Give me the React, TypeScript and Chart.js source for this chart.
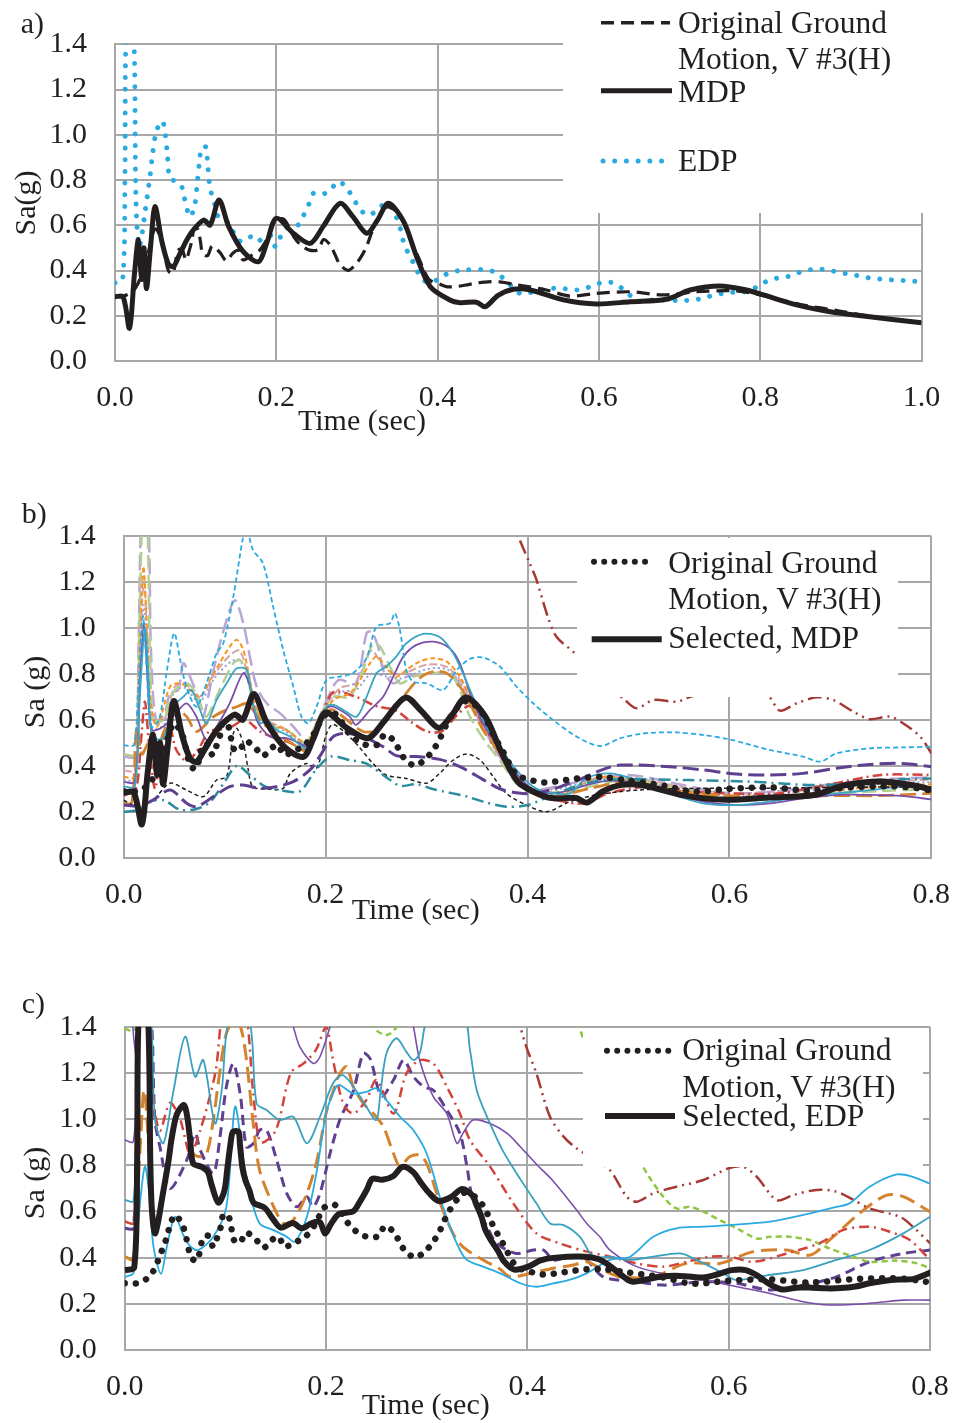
import React, { useEffect, useRef } from "react";
import { Chart, registerables } from "chart.js";

Chart.register(...registerables);

type P = [number, number];

const FONT = "'Liberation Serif', 'Times New Roman', Times, serif";
const INK = "#231f20";
const GRID = "#a7a7a7";
const CLEAR = "rgba(0,0,0,0)";

const yTickValues = [0, 0.2, 0.4, 0.6, 0.8, 1.0, 1.2, 1.4];
const xTicksA = [0, 0.2, 0.4, 0.6, 0.8, 1.0];
const xTicksBC = [0, 0.2, 0.4, 0.6, 0.8];

// Original ground motion, V #3(H)
const original: P[] = [[0,0.289],[0.012,0.289],[0.0225,0.31],[0.029,0.346],[0.034,0.397],[0.038,0.443],[0.042,0.49],[0.045,0.54],[0.05,0.584],[0.057,0.545],[0.0606,0.498],[0.063,0.444],[0.0666,0.397],[0.072,0.387],[0.078,0.488],[0.083,0.494],[0.088,0.447],[0.092,0.488],[0.0957,0.537],[0.098,0.587],[0.103,0.58],[0.106,0.527],[0.1086,0.476],[0.1146,0.465],[0.1205,0.508],[0.13,0.48],[0.138,0.443],[0.146,0.476],[0.153,0.49],[0.1586,0.447],[0.1685,0.465],[0.179,0.488],[0.19,0.55],[0.198,0.616],[0.209,0.628],[0.222,0.548],[0.2305,0.512],[0.241,0.49],[0.252,0.493],[0.2586,0.537],[0.267,0.512],[0.273,0.469],[0.279,0.426],[0.289,0.401],[0.299,0.43],[0.3066,0.469],[0.3126,0.512],[0.317,0.556],[0.3225,0.603],[0.329,0.645],[0.337,0.681],[0.348,0.664],[0.3556,0.628],[0.361,0.584],[0.366,0.538],[0.372,0.49],[0.378,0.444],[0.383,0.401],[0.39,0.358],[0.403,0.339],[0.412,0.328],[0.423,0.329],[0.435,0.336],[0.446,0.343],[0.458,0.349],[0.477,0.35],[0.498,0.337],[0.535,0.314],[0.564,0.287],[0.597,0.299],[0.639,0.306],[0.68,0.292],[0.721,0.306],[0.762,0.311],[0.787,0.302],[0.82,0.275],[0.85,0.25],[0.9,0.22],[0.95,0.19],[1.0,0.17]];

// MDP (selected)
const mdp: P[] = [[0,0.284],[0.010,0.284],[0.018,0.145],[0.024,0.38],[0.029,0.535],[0.033,0.36],[0.036,0.5],[0.039,0.32],[0.044,0.5],[0.0496,0.682],[0.058,0.53],[0.066,0.43],[0.0723,0.417],[0.08,0.47],[0.089,0.535],[0.097,0.579],[0.110,0.623],[0.118,0.601],[0.129,0.712],[0.141,0.594],[0.159,0.483],[0.178,0.439],[0.188,0.52],[0.200,0.631],[0.221,0.565],[0.242,0.520],[0.258,0.594],[0.279,0.697],[0.295,0.638],[0.312,0.565],[0.325,0.62],[0.339,0.697],[0.358,0.616],[0.374,0.461],[0.391,0.328],[0.415,0.270],[0.428,0.258],[0.448,0.26],[0.459,0.240],[0.475,0.29],[0.494,0.317],[0.515,0.314],[0.556,0.270],[0.597,0.252],[0.639,0.262],[0.684,0.273],[0.713,0.314],[0.750,0.332],[0.783,0.314],[0.804,0.292],[0.845,0.248],[0.887,0.218],[0.928,0.199],[1.0,0.169]];

// EDP (selected)
const edp: P[] = [[0,0.346],[0.0095,0.358],[0.0124,0.83],[0.0145,1.5],[0.0225,1.5],[0.0255,0.8],[0.027,0.609],[0.030,0.505],[0.033,0.55],[0.037,0.653],[0.0434,0.815],[0.0467,0.918],[0.0517,1.02],[0.0587,1.061],[0.062,1.014],[0.065,0.91],[0.068,0.808],[0.0765,0.793],[0.0827,0.771],[0.086,0.72],[0.093,0.638],[0.099,0.69],[0.102,0.788],[0.105,0.889],[0.1075,0.945],[0.113,0.945],[0.1145,0.89],[0.117,0.788],[0.12,0.734],[0.124,0.69],[0.128,0.638],[0.139,0.616],[0.147,0.569],[0.155,0.53],[0.167,0.55],[0.176,0.527],[0.186,0.55],[0.194,0.553],[0.199,0.505],[0.2055,0.55],[0.213,0.589],[0.227,0.601],[0.234,0.645],[0.2405,0.694],[0.246,0.741],[0.256,0.737],[0.2666,0.752],[0.276,0.793],[0.2865,0.771],[0.294,0.726],[0.302,0.682],[0.312,0.645],[0.3245,0.663],[0.335,0.697],[0.345,0.671],[0.350,0.624],[0.3546,0.575],[0.358,0.523],[0.3637,0.476],[0.3707,0.43],[0.377,0.383],[0.387,0.348],[0.401,0.361],[0.413,0.388],[0.428,0.40],[0.457,0.404],[0.471,0.393],[0.482,0.364],[0.493,0.326],[0.504,0.296],[0.518,0.305],[0.532,0.317],[0.547,0.322],[0.561,0.318],[0.575,0.314],[0.59,0.329],[0.603,0.346],[0.617,0.346],[0.63,0.318],[0.641,0.284],[0.653,0.262],[0.667,0.27],[0.682,0.27],[0.697,0.267],[0.711,0.268],[0.726,0.275],[0.74,0.289],[0.754,0.299],[0.769,0.305],[0.783,0.307],[0.797,0.329],[0.809,0.354],[0.823,0.368],[0.838,0.376],[0.851,0.395],[0.866,0.405],[0.879,0.405],[0.894,0.395],[0.908,0.385],[0.923,0.376],[0.937,0.366],[0.952,0.361],[0.966,0.358],[0.982,0.355],[1.0,0.35]];

// Panel b: other candidate motions
const bLightBlueDash: P[] = [[0,0.49],[0.01,0.49],[0.014,0.7],[0.019,1.05],[0.023,0.8],[0.027,0.57],[0.035,0.6],[0.043,0.82],[0.05,0.977],[0.056,0.86],[0.062,0.745],[0.072,0.657],[0.082,0.759],[0.092,0.89],[0.0987,0.933],[0.1086,1.136],[0.1185,1.40],[0.122,1.43],[0.128,1.34],[0.138,1.28],[0.148,1.093],[0.158,0.904],[0.168,0.745],[0.176,0.614],[0.183,0.585],[0.191,0.657],[0.201,0.774],[0.214,0.788],[0.227,0.803],[0.2406,0.87],[0.2505,1.006],[0.2637,1.02],[0.2686,1.064],[0.2736,0.991],[0.28,0.817],[0.2868,0.766],[0.30,0.759],[0.3165,0.73],[0.33,0.817],[0.343,0.865],[0.356,0.871],[0.3726,0.832],[0.389,0.745],[0.4056,0.672],[0.4254,0.599],[0.4486,0.527],[0.4717,0.486],[0.4915,0.519],[0.5146,0.541],[0.5477,0.545],[0.574,0.534],[0.6,0.515],[0.64,0.469],[0.673,0.44],[0.69,0.418],[0.706,0.454],[0.739,0.476],[0.772,0.48],[0.8,0.483]];
const bDarkRedDDD: P[] = [[0.37,1.65],[0.3924,1.383],[0.4023,1.28],[0.409,1.208],[0.42,1.05],[0.4287,0.962],[0.447,0.889],[0.47,0.78],[0.4948,0.693],[0.508,0.65],[0.5245,0.686],[0.5477,0.679],[0.564,0.704],[0.6,0.71],[0.637,0.708],[0.65,0.64],[0.6666,0.672],[0.6864,0.698],[0.703,0.686],[0.723,0.635],[0.739,0.603],[0.759,0.614],[0.772,0.585],[0.789,0.527],[0.8,0.454]];
const bPurpleLong: P[] = [[0,0.229],[0.016,0.225],[0.029,0.251],[0.046,0.295],[0.0624,0.237],[0.072,0.222],[0.089,0.266],[0.105,0.309],[0.118,0.316],[0.135,0.302],[0.151,0.309],[0.168,0.331],[0.1845,0.382],[0.194,0.44],[0.2076,0.527],[0.2208,0.541],[0.2406,0.52],[0.257,0.483],[0.27,0.444],[0.29,0.44],[0.313,0.428],[0.333,0.396],[0.356,0.34],[0.3726,0.30],[0.389,0.283],[0.409,0.28],[0.442,0.324],[0.475,0.384],[0.4915,0.403],[0.541,0.396],[0.574,0.382],[0.607,0.364],[0.64,0.36],[0.673,0.367],[0.706,0.389],[0.739,0.406],[0.772,0.41],[0.8,0.396]];
const bTealDashDot: P[] = [[0,0.2],[0.013,0.207],[0.026,0.244],[0.04,0.25],[0.055,0.21],[0.07,0.21],[0.085,0.24],[0.1,0.33],[0.112,0.40],[0.125,0.36],[0.14,0.31],[0.16,0.29],[0.175,0.29],[0.19,0.38],[0.205,0.44],[0.224,0.425],[0.24,0.41],[0.264,0.338],[0.274,0.312],[0.29,0.32],[0.307,0.298],[0.34,0.266],[0.356,0.244],[0.379,0.222],[0.40,0.229],[0.425,0.273],[0.458,0.324],[0.49,0.341],[0.56,0.338],[0.62,0.331],[0.69,0.316],[0.756,0.338],[0.8,0.345]];
const bBlackShortDash: P[] = [[0,0.25],[0.015,0.22],[0.029,0.25],[0.046,0.324],[0.062,0.295],[0.079,0.266],[0.092,0.338],[0.102,0.353],[0.1086,0.541],[0.112,0.563],[0.1185,0.498],[0.1234,0.382],[0.128,0.309],[0.145,0.298],[0.158,0.302],[0.165,0.367],[0.181,0.41],[0.191,0.389],[0.201,0.541],[0.2076,0.58],[0.227,0.512],[0.247,0.41],[0.26,0.36],[0.28,0.345],[0.3,0.324],[0.313,0.367],[0.3264,0.425],[0.3396,0.451],[0.353,0.425],[0.366,0.353],[0.379,0.28],[0.399,0.229],[0.419,0.2],[0.442,0.244],[0.468,0.273],[0.508,0.294],[0.574,0.302],[0.64,0.302],[0.706,0.306],[0.8,0.309]];
const bTealSolid: P[] = [[0,0.31],[0.011,0.31],[0.016,0.7],[0.021,1.0],[0.025,0.75],[0.028,0.527],[0.039,0.52],[0.049,0.657],[0.059,0.70],[0.067,0.73],[0.0756,0.643],[0.082,0.585],[0.092,0.686],[0.102,0.759],[0.112,0.824],[0.122,0.817],[0.128,0.672],[0.135,0.585],[0.1416,0.6],[0.1515,0.556],[0.1647,0.527],[0.1746,0.49],[0.181,0.476],[0.191,0.556],[0.201,0.657],[0.2076,0.665],[0.2175,0.643],[0.2307,0.614],[0.2406,0.70],[0.2505,0.803],[0.26,0.832],[0.27,0.875],[0.28,0.933],[0.2967,0.974],[0.313,0.96],[0.3264,0.89],[0.336,0.803],[0.346,0.70],[0.3594,0.57],[0.3726,0.483],[0.389,0.382],[0.4056,0.309],[0.4254,0.28],[0.442,0.28],[0.458,0.345],[0.4816,0.367],[0.508,0.338],[0.541,0.28],[0.574,0.236],[0.607,0.229],[0.64,0.244],[0.673,0.265],[0.706,0.28],[0.739,0.294],[0.772,0.309],[0.8,0.306]];
const bPurpleSolid: P[] = [[0,0.33],[0.011,0.33],[0.016,0.75],[0.02,1.02],[0.024,0.75],[0.028,0.556],[0.039,0.57],[0.049,0.614],[0.062,0.672],[0.072,0.614],[0.082,0.512],[0.092,0.57],[0.105,0.672],[0.1185,0.803],[0.125,0.745],[0.1317,0.6],[0.145,0.527],[0.161,0.52],[0.1746,0.498],[0.181,0.483],[0.191,0.556],[0.201,0.65],[0.2076,0.657],[0.224,0.614],[0.23,0.578],[0.244,0.643],[0.257,0.70],[0.267,0.788],[0.277,0.875],[0.29,0.926],[0.3066,0.94],[0.323,0.911],[0.333,0.846],[0.343,0.716],[0.356,0.585],[0.3726,0.469],[0.389,0.367],[0.4056,0.295],[0.425,0.28],[0.442,0.294],[0.458,0.316],[0.4816,0.335],[0.508,0.324],[0.541,0.28],[0.574,0.244],[0.607,0.229],[0.64,0.236],[0.673,0.258],[0.706,0.273],[0.739,0.273],[0.772,0.268],[0.8,0.254]];
const bOrangeShort: P[] = [[0,0.352],[0.011,0.352],[0.015,0.8],[0.0195,1.267],[0.023,1.0],[0.026,0.70],[0.033,0.57],[0.046,0.745],[0.056,0.759],[0.0657,0.73],[0.0756,0.70],[0.0855,0.774],[0.095,0.846],[0.105,0.918],[0.112,0.948],[0.1185,0.904],[0.125,0.774],[0.1317,0.643],[0.145,0.585],[0.161,0.556],[0.1746,0.512],[0.181,0.498],[0.194,0.6],[0.2076,0.686],[0.224,0.716],[0.234,0.774],[0.244,0.846],[0.2505,0.875],[0.26,0.832],[0.27,0.788],[0.28,0.817],[0.293,0.853],[0.3066,0.868],[0.32,0.853],[0.333,0.788],[0.346,0.672],[0.3594,0.556],[0.3726,0.454],[0.389,0.353],[0.4056,0.295],[0.43,0.27],[0.47,0.35],[0.5,0.34],[0.55,0.29],[0.6,0.26],[0.65,0.27],[0.7,0.29],[0.75,0.31],[0.8,0.32]];
const bOrangeLong: P[] = [[0,0.235],[0.008,0.24],[0.013,0.57],[0.018,0.45],[0.025,0.5],[0.032,0.45],[0.039,0.54],[0.046,0.607],[0.0525,0.643],[0.0624,0.614],[0.072,0.549],[0.089,0.614],[0.102,0.643],[0.112,0.657],[0.122,0.672],[0.128,0.643],[0.138,0.585],[0.1515,0.541],[0.161,0.512],[0.1746,0.476],[0.181,0.462],[0.191,0.541],[0.201,0.636],[0.2076,0.643],[0.221,0.6],[0.237,0.549],[0.2505,0.556],[0.2637,0.614],[0.277,0.70],[0.293,0.781],[0.3066,0.81],[0.32,0.803],[0.333,0.745],[0.343,0.672],[0.356,0.556],[0.3726,0.454],[0.389,0.338],[0.4056,0.28],[0.42,0.26],[0.46,0.30],[0.5,0.33],[0.55,0.29],[0.6,0.27],[0.65,0.26],[0.7,0.27],[0.75,0.27],[0.8,0.28]];
const bRedDashDot: P[] = [[0,0.27],[0.012,0.3],[0.017,0.5],[0.021,0.68],[0.025,0.5],[0.031,0.3],[0.036,0.45],[0.045,0.58],[0.052,0.47],[0.063,0.42],[0.075,0.48],[0.085,0.55],[0.1,0.56],[0.107,0.57],[0.12,0.6],[0.135,0.55],[0.15,0.52],[0.165,0.5],[0.181,0.47],[0.195,0.6],[0.2076,0.72],[0.23,0.70],[0.25,0.66],[0.27,0.64],[0.285,0.59],[0.30,0.55],[0.315,0.55],[0.33,0.62],[0.343,0.66],[0.36,0.55],[0.38,0.40],[0.40,0.30],[0.42,0.26],[0.455,0.236],[0.48,0.28],[0.52,0.31],[0.55,0.29],[0.6,0.28],[0.65,0.28],[0.7,0.32],[0.75,0.36],[0.8,0.36]];
const bLightGreen: P[] = [[0,0.45],[0.011,0.45],[0.016,1.1],[0.019,1.5],[0.023,1.5],[0.026,0.9],[0.03,0.6],[0.04,0.6],[0.046,0.70],[0.059,0.759],[0.067,0.745],[0.0756,0.672],[0.082,0.614],[0.095,0.73],[0.1086,0.846],[0.115,0.86],[0.122,0.817],[0.128,0.672],[0.1416,0.578],[0.161,0.556],[0.1746,0.512],[0.181,0.498],[0.194,0.614],[0.2076,0.70],[0.224,0.70],[0.237,0.817],[0.247,0.933],[0.254,0.918],[0.2637,0.832],[0.2736,0.759],[0.287,0.788],[0.3066,0.803],[0.323,0.803],[0.333,0.73],[0.343,0.614],[0.3594,0.498],[0.3726,0.425],[0.389,0.324],[0.4056,0.28],[0.45,0.30],[0.5,0.34],[0.55,0.30],[0.6,0.26],[0.65,0.27],[0.7,0.28],[0.75,0.29],[0.8,0.30]];
const bLavender: P[] = [[0,0.44],[0.011,0.44],[0.015,1.0],[0.018,1.5],[0.024,1.5],[0.027,0.9],[0.032,0.6],[0.04,0.62],[0.046,0.716],[0.054,0.73],[0.059,0.846],[0.0657,0.788],[0.0756,0.672],[0.079,0.614],[0.089,0.817],[0.099,0.99],[0.11,1.12],[0.1185,1.02],[0.125,0.875],[0.1317,0.745],[0.1416,0.672],[0.155,0.628],[0.168,0.57],[0.178,0.52],[0.1845,0.505],[0.194,0.614],[0.2076,0.745],[0.214,0.774],[0.23,0.759],[0.2406,0.977],[0.2455,0.984],[0.252,0.918],[0.257,0.817],[0.267,0.759],[0.28,0.788],[0.3066,0.803],[0.3264,0.788],[0.3396,0.70],[0.356,0.57],[0.3726,0.44],[0.389,0.338],[0.4056,0.295],[0.45,0.33],[0.5,0.36],[0.55,0.32],[0.6,0.28],[0.65,0.29],[0.7,0.32],[0.75,0.34],[0.8,0.35]];
const bPink: P[] = [[0,0.38],[0.011,0.38],[0.016,0.9],[0.02,1.2],[0.024,0.9],[0.028,0.6],[0.04,0.6],[0.05,0.74],[0.06,0.76],[0.075,0.7],[0.09,0.8],[0.105,0.88],[0.115,0.9],[0.125,0.76],[0.135,0.62],[0.16,0.56],[0.181,0.5],[0.2,0.66],[0.215,0.74],[0.23,0.76],[0.245,0.9],[0.26,0.82],[0.275,0.8],[0.3,0.84],[0.32,0.83],[0.335,0.76],[0.36,0.54],[0.389,0.34],[0.41,0.29],[0.45,0.33],[0.5,0.35],[0.55,0.31],[0.6,0.28],[0.65,0.29],[0.7,0.31],[0.75,0.33],[0.8,0.34]];
const bPeriwinkle: P[] = [[0,0.34],[0.011,0.34],[0.016,0.8],[0.02,1.1],[0.024,0.8],[0.028,0.56],[0.04,0.58],[0.05,0.72],[0.06,0.74],[0.075,0.68],[0.09,0.78],[0.105,0.85],[0.115,0.86],[0.125,0.74],[0.135,0.6],[0.16,0.55],[0.181,0.49],[0.2,0.64],[0.215,0.72],[0.23,0.73],[0.245,0.8],[0.26,0.79],[0.275,0.78],[0.3,0.82],[0.32,0.82],[0.335,0.75],[0.36,0.53],[0.389,0.33],[0.41,0.28],[0.45,0.32],[0.5,0.34],[0.55,0.30],[0.6,0.27],[0.65,0.28],[0.7,0.30],[0.75,0.32],[0.8,0.33]];

// Panel c: other candidate motions
const cLightBlue: P[] = [[0,0.317],[0.0086,0.332],[0.0136,0.563],[0.02,0.794],[0.025,0.65],[0.0285,0.45],[0.036,0.33],[0.042,0.45],[0.05,0.577],[0.058,0.5],[0.065,0.45],[0.073,0.433],[0.088,0.49],[0.101,0.62],[0.1096,1.053],[0.118,0.822],[0.1245,0.678],[0.134,0.548],[0.148,0.519],[0.161,0.49],[0.169,0.469],[0.181,0.577],[0.191,0.779],[0.2,1.024],[0.21,1.14],[0.214,1.147],[0.227,1.111],[0.24,1.118],[0.25,1.133],[0.26,1.082],[0.2735,1.01],[0.2868,0.952],[0.3,0.851],[0.313,0.664],[0.323,0.534],[0.333,0.433],[0.34,0.39],[0.356,0.361],[0.373,0.332],[0.393,0.289],[0.409,0.274],[0.426,0.289],[0.439,0.3],[0.459,0.332],[0.482,0.39],[0.502,0.404],[0.525,0.49],[0.548,0.527],[0.575,0.534],[0.6,0.541],[0.641,0.556],[0.674,0.585],[0.707,0.62],[0.72,0.635],[0.74,0.707],[0.767,0.76],[0.783,0.75],[0.8,0.72]];
const cTealSolid: P[] = [[0,0.65],[0.0086,0.645],[0.012,1.0],[0.015,1.5],[0.025,1.5],[0.03,1.0],[0.0384,0.895],[0.048,1.111],[0.06,1.357],[0.07,1.183],[0.078,1.256],[0.0897,0.981],[0.0964,1.126],[0.1046,1.45],[0.123,1.45],[0.131,1.068],[0.141,1.039],[0.154,0.996],[0.1675,1.01],[0.181,0.895],[0.194,1.01],[0.207,1.155],[0.217,1.19],[0.234,1.097],[0.24,1.053],[0.25,0.996],[0.254,1.111],[0.26,1.284],[0.27,1.35],[0.28,1.29],[0.287,1.255],[0.293,1.284],[0.303,1.45],[0.336,1.45],[0.343,1.3],[0.35,1.12],[0.363,0.98],[0.376,0.86],[0.393,0.74],[0.409,0.635],[0.4225,0.548],[0.436,0.541],[0.452,0.491],[0.4656,0.404],[0.482,0.404],[0.502,0.39],[0.525,0.404],[0.552,0.418],[0.568,0.39],[0.595,0.332],[0.608,0.303],[0.641,0.325],[0.674,0.346],[0.707,0.39],[0.74,0.433],[0.7735,0.505],[0.8,0.577]];
const cPurpleSolid: P[] = [[0,0.909],[0.0086,0.902],[0.012,1.2],[0.015,1.5],[0.16,1.5],[0.1675,1.4],[0.174,1.313],[0.1874,1.241],[0.194,1.27],[0.204,1.4],[0.21,1.5],[0.28,1.5],[0.2868,1.4],[0.293,1.255],[0.3066,1.097],[0.32,1.024],[0.33,0.895],[0.336,0.938],[0.346,0.996],[0.363,0.981],[0.38,0.938],[0.393,0.88],[0.41,0.8],[0.426,0.73],[0.449,0.606],[0.459,0.548],[0.472,0.49],[0.482,0.433],[0.5086,0.361],[0.5417,0.325],[0.575,0.303],[0.608,0.274],[0.641,0.245],[0.674,0.209],[0.7,0.195],[0.74,0.202],[0.7735,0.216],[0.8,0.216]];
const cRedDashDot: P[] = [[0,0.556],[0.0086,0.55],[0.012,1.0],[0.015,1.5],[0.024,1.5],[0.028,1.1],[0.035,0.95],[0.045,1.07],[0.055,1.0],[0.065,0.85],[0.075,0.95],[0.09,1.2],[0.1,1.5],[0.118,1.5],[0.128,1.1],[0.135,0.9],[0.15,0.95],[0.165,1.2],[0.1775,1.24],[0.19,1.3],[0.2,1.4],[0.207,1.255],[0.217,1.068],[0.227,1.024],[0.24,1.082],[0.25,1.169],[0.267,1.024],[0.28,1.198],[0.293,1.255],[0.3066,1.241],[0.32,1.14],[0.333,1.024],[0.343,0.909],[0.363,0.794],[0.386,0.635],[0.409,0.505],[0.432,0.462],[0.459,0.426],[0.482,0.404],[0.5086,0.375],[0.535,0.361],[0.558,0.382],[0.581,0.404],[0.601,0.404],[0.6245,0.382],[0.6576,0.418],[0.69,0.462],[0.714,0.52],[0.74,0.534],[0.76,0.512],[0.78,0.476],[0.8,0.39]];
const cDarkRedDDD: P[] = [[0.38,1.6],[0.393,1.4],[0.399,1.313],[0.409,1.198],[0.4225,1.01],[0.436,0.924],[0.449,0.873],[0.465,0.83],[0.482,0.779],[0.4987,0.664],[0.5086,0.642],[0.525,0.678],[0.548,0.707],[0.575,0.736],[0.6,0.787],[0.6146,0.794],[0.628,0.75],[0.6477,0.649],[0.664,0.671],[0.687,0.693],[0.707,0.686],[0.724,0.65],[0.74,0.613],[0.77,0.577],[0.783,0.534],[0.8,0.462]];
const cGreenShort: P[] = [[0,1.39],[0.01,1.385],[0.015,1.6],[0.235,1.6],[0.247,1.4],[0.26,1.364],[0.27,1.4],[0.28,1.6],[0.44,1.6],[0.452,1.4],[0.456,1.342],[0.49,1.05],[0.515,0.794],[0.535,0.664],[0.548,0.613],[0.5616,0.62],[0.575,0.599],[0.591,0.563],[0.608,0.527],[0.628,0.483],[0.641,0.49],[0.661,0.49],[0.681,0.476],[0.7,0.44],[0.724,0.404],[0.74,0.382],[0.767,0.387],[0.787,0.375],[0.8,0.354]];
const cOrangeLong: P[] = [[0,0.404],[0.0086,0.393],[0.015,0.85],[0.0185,1.111],[0.02,1.125],[0.025,0.8],[0.03,0.55],[0.035,0.62],[0.045,0.88],[0.0566,1.068],[0.0616,1.039],[0.068,0.851],[0.075,0.837],[0.0815,0.851],[0.088,0.996],[0.0947,1.212],[0.101,1.371],[0.108,1.42],[0.115,1.4],[0.121,1.255],[0.128,0.967],[0.134,0.779],[0.148,0.62],[0.158,0.548],[0.1675,0.563],[0.181,0.678],[0.191,0.822],[0.2,1.024],[0.207,1.12],[0.214,1.198],[0.2205,1.227],[0.227,1.14],[0.237,1.068],[0.247,1.024],[0.257,0.967],[0.267,0.851],[0.2735,0.794],[0.283,0.837],[0.293,0.844],[0.3,0.808],[0.31,0.678],[0.32,0.563],[0.33,0.476],[0.34,0.433],[0.356,0.39],[0.373,0.35],[0.383,0.317],[0.406,0.335],[0.426,0.354],[0.446,0.368],[0.459,0.382],[0.4755,0.346],[0.492,0.317],[0.525,0.317],[0.558,0.375],[0.591,0.375],[0.6245,0.426],[0.6576,0.433],[0.681,0.411],[0.7,0.476],[0.734,0.606],[0.757,0.671],[0.7735,0.664],[0.8,0.599]];
const cPurpleDash: P[] = [[0,0.527],[0.0086,0.527],[0.012,1.0],[0.015,1.5],[0.025,1.5],[0.03,1.0],[0.035,0.88],[0.045,0.7],[0.0616,0.822],[0.07,0.938],[0.075,0.866],[0.088,0.765],[0.0947,0.924],[0.101,1.14],[0.108,1.241],[0.115,1.1],[0.121,0.88],[0.128,0.895],[0.134,0.952],[0.141,0.952],[0.151,0.822],[0.161,0.678],[0.171,0.62],[0.181,0.664],[0.187,0.62],[0.194,0.678],[0.204,0.851],[0.214,1.0],[0.227,1.12],[0.237,1.284],[0.244,1.26],[0.255,1.1],[0.267,1.169],[0.277,1.255],[0.287,1.183],[0.297,1.14],[0.3066,1.125],[0.32,1.039],[0.333,0.938],[0.34,0.794],[0.346,0.649],[0.36,0.534],[0.3695,0.462],[0.389,0.418],[0.406,0.433],[0.416,0.433],[0.426,0.39],[0.439,0.40],[0.456,0.4],[0.4755,0.317],[0.5086,0.296],[0.535,0.281],[0.558,0.289],[0.575,0.296],[0.608,0.289],[0.641,0.26],[0.674,0.281],[0.707,0.317],[0.74,0.382],[0.7735,0.418],[0.8,0.433]];

type Style = { color: string; width: number; dash?: number[]; round?: boolean };

function ds(label: string, pts: P[], s: Style) {
  return {
    label,
    data: pts.map(([x, y]) => ({ x, y })),
    borderColor: s.color,
    backgroundColor: s.color,
    borderWidth: s.width,
    borderDash: s.dash || [],
    borderCapStyle: s.round ? "round" : "butt",
    borderJoinStyle: "round",
    pointRadius: 0,
    fill: false,
    tension: 0.3,
  };
}

const dotted = (color: string, width: number, gap: number): Style => ({ color, width, dash: [0.01, gap], round: true });

const datasetsA = () => [
  ds("MDP", mdp, { color: INK, width: 5 }),
  ds("Original Ground Motion, V #3(H)", original, { color: INK, width: 3.2, dash: [13, 7] }),
  ds("EDP", edp, dotted("#29abe2", 5, 11.7)),
];

const datasetsB = () => [
  ds("Selected, MDP", mdp, { color: INK, width: 6 }),
  ds("Original Ground Motion, V #3(H)", original, dotted(INK, 6.5, 11)),
  ds("b1", bLightBlueDash, { color: "#29abe2", width: 1.8, dash: [5, 3] }),
  ds("b2", bDarkRedDDD, { color: "#a53a35", width: 2.5, dash: [14, 5, 2, 5, 2, 5] }),
  ds("b3", bPurpleLong, { color: "#5f3f8f", width: 3, dash: [16, 6] }),
  ds("b4", bTealDashDot, { color: "#2a8c9e", width: 2.5, dash: [12, 5, 2, 5] }),
  ds("b5", bBlackShortDash, { color: INK, width: 1.5, dash: [4, 3] }),
  ds("b6", bTealSolid, { color: "#3aa4c4", width: 1.8 }),
  ds("b7", bPurpleSolid, { color: "#7a4fa8", width: 1.8 }),
  ds("b8", bOrangeShort, { color: "#f7941d", width: 2, dash: [5, 3] }),
  ds("b9", bOrangeLong, { color: "#d5822d", width: 2.8, dash: [16, 6] }),
  ds("b10", bRedDashDot, { color: "#d2433b", width: 2.5, dash: [10, 4, 2, 4] }),
  ds("b11", bLightGreen, { color: "#b4cf94", width: 2.5, dash: [14, 6] }),
  ds("b12", bLavender, { color: "#b9a6d3", width: 2.5, dash: [16, 6] }),
  ds("b13", bPink, { color: "#d9a3a3", width: 2, dash: [8, 3] }),
  ds("b14", bPeriwinkle, { color: "#8e9fd6", width: 2, dash: [2, 3] }),
];

const datasetsC = () => [
  ds("Selected, EDP", edp, { color: INK, width: 6 }),
  ds("Original Ground Motion, V #3(H)", original, dotted(INK, 6.5, 11)),
  ds("c1", cLightBlue, { color: "#29abe2", width: 1.8 }),
  ds("c2", cTealSolid, { color: "#3aa0bf", width: 1.8 }),
  ds("c3", cPurpleSolid, { color: "#7a4fa8", width: 1.6 }),
  ds("c4", cRedDashDot, { color: "#d2433b", width: 2.5, dash: [10, 5, 2, 5] }),
  ds("c5", cDarkRedDDD, { color: "#a53a35", width: 2.5, dash: [14, 5, 2, 5, 2, 5] }),
  ds("c6", cGreenShort, { color: "#8dc63f", width: 2.5, dash: [6, 4] }),
  ds("c7", cOrangeLong, { color: "#d5822d", width: 3, dash: [16, 7] }),
  ds("c8", cPurpleDash, { color: "#5f3f8f", width: 3, dash: [10, 6] }),
];

type PanelProps = {
  top: number; height: number; L: number; R: number; T: number; B: number;
  xMax: number; xTicks: number[]; makeDatasets: () => any[];
};

function Panel({ top, height, L, R, T, B, xMax, xTicks, makeDatasets }: PanelProps) {
  const ref = useRef<HTMLCanvasElement>(null);
  useEffect(() => {
    const tickFont = { family: FONT, size: 30 };
    const chart = new Chart(ref.current as HTMLCanvasElement, {
      type: "line",
      data: { datasets: makeDatasets() as any },
      options: {
        animation: false,
        responsive: false,
        maintainAspectRatio: false,
        devicePixelRatio: 1,
        layout: { padding: { left: 0, top: T - top, right: 953 - R, bottom: 0 } },
        plugins: { legend: { display: false }, tooltip: { enabled: false } },
        scales: {
          x: {
            type: "linear",
            min: 0,
            max: xMax,
            afterBuildTicks: (s: any) => { s.ticks = xTicks.map((v) => ({ value: v })); },
            afterFit: (s: any) => { s.height = top + height - B; },
            grid: { color: GRID, lineWidth: 2, drawTicks: true, tickLength: 19, tickColor: CLEAR },
            border: { color: GRID, width: 2 },
            ticks: {
              padding: 0, font: tickFont, color: INK, maxRotation: 0, autoSkip: false,
              callback: (v: any) => Number(v).toFixed(1),
            },
          },
          y: {
            type: "linear",
            min: 0,
            max: 1.4,
            afterBuildTicks: (s: any) => { s.ticks = yTickValues.map((v) => ({ value: v })); },
            afterFit: (s: any) => { s.width = L; },
            grid: { color: GRID, lineWidth: 2, drawTicks: true, tickLength: 28, tickColor: CLEAR },
            border: { color: GRID, width: 2 },
            ticks: {
              padding: 0, font: tickFont, color: INK, autoSkip: false,
              callback: (v: any) => Number(v).toFixed(1),
            },
          },
        },
      } as any,
    });
    return () => chart.destroy();
  }, []);
  return (
    <canvas
      ref={ref}
      width={953}
      height={height}
      style={{ position: "absolute", left: 0, top, width: 953, height, display: "block" }}
    />
  );
}

function T({ x, y, s = 30, children, anchor = "start" as any, rot = false }: any) {
  if (rot) {
    return (
      <text transform={`translate(${x},${y}) rotate(-90)`} textAnchor="middle" fontFamily={FONT} fontSize={s} fill={INK}>
        {children}
      </text>
    );
  }
  return (
    <text x={x} y={y} textAnchor={anchor} fontFamily={FONT} fontSize={s} fill={INK}>
      {children}
    </text>
  );
}

export default function App() {
  const LS = 31.5;
  return (
    <div style={{ position: "absolute", left: 0, top: 0, width: 953, height: 1423, background: "#fff", overflow: "hidden" }}>
      <Panel top={0} height={440} L={115} R={921.5} T={44.3} B={361} xMax={1.0} xTicks={xTicksA} makeDatasets={datasetsA} />
      <Panel top={480} height={460} L={123.7} R={931.3} T={536} B={857.7} xMax={0.8} xTicks={xTicksBC} makeDatasets={datasetsB} />
      <Panel top={970} height={453} L={124.7} R={930} T={1026.7} B={1350} xMax={0.8} xTicks={xTicksBC} makeDatasets={datasetsC} />
      <svg width={953} height={1423} style={{ position: "absolute", left: 0, top: 0, pointerEvents: "none" }}>
        {/* Panel a */}
        <T x={20.7} y={33.3}>a)</T>
        <T x={35} y={203} rot>Sa(g)</T>
        <T x={298} y={430}>Time (sec)</T>
        <rect x={563} y={0} width={362} height={213} fill="#fff" />
        <line x1={601} y1={22.7} x2={670} y2={22.7} stroke={INK} strokeWidth={3.5} strokeDasharray="13 7" />
        <line x1={601} y1={90.7} x2={672} y2={90.7} stroke={INK} strokeWidth={5} />
        <line x1={603} y1={161} x2={664} y2={161} stroke="#29abe2" strokeWidth={5} strokeDasharray="0.01 11.7" strokeLinecap="round" />
        <T x={678} y={33.3} s={LS}>Original Ground</T>
        <T x={678} y={69} s={LS}>Motion, V #3(H)</T>
        <T x={678} y={101.7} s={LS}>MDP</T>
        <T x={678} y={170.7} s={LS}>EDP</T>

        {/* Panel b */}
        <T x={21.7} y={523.3}>b)</T>
        <T x={44} y={692} rot>Sa (g)</T>
        <T x={351.7} y={918.5}>Time (sec)</T>
        <rect x={577} y={538} width={321} height={159} fill="#fff" />
        <line x1={594} y1={561.7} x2={653} y2={561.7} stroke={INK} strokeWidth={6} strokeDasharray="0.01 10.2" strokeLinecap="round" />
        <line x1={591.7} y1={639.3} x2={661.7} y2={639.3} stroke={INK} strokeWidth={6} />
        <T x={668.3} y={573.3} s={LS}>Original Ground</T>
        <T x={668.3} y={609.3} s={LS}>Motion, V #3(H)</T>
        <T x={668.3} y={648.3} s={LS}>Selected, MDP</T>

        {/* Panel c */}
        <T x={21.7} y={1013}>c)</T>
        <T x={44} y={1183} rot>Sa (g)</T>
        <T x={361.7} y={1413.5}>Time (sec)</T>
        <rect x={583} y={1028} width={340} height={139} fill="#fff" />
        <line x1={607} y1={1050.7} x2={668.3} y2={1050.7} stroke={INK} strokeWidth={6} strokeDasharray="0.01 10.2" strokeLinecap="round" />
        <line x1={605} y1={1116} x2={675} y2={1116} stroke={INK} strokeWidth={6} />
        <T x={682.3} y={1060} s={LS}>Original Ground</T>
        <T x={682.3} y={1096.7} s={LS}>Motion, V #3(H)</T>
        <T x={682.3} y={1126} s={LS}>Selected, EDP</T>
      </svg>
    </div>
  );
}
